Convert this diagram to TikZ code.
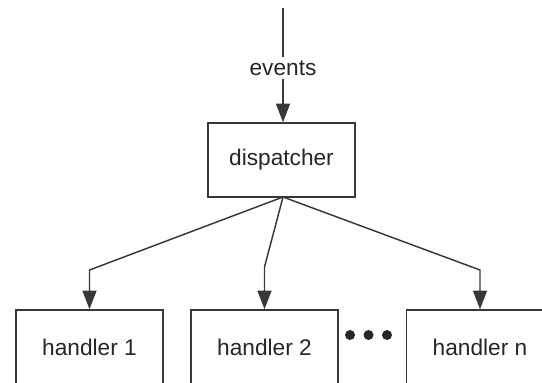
\documentclass[tikz,border=0pt]{standalone}
\usepackage{fontspec}
\setmainfont{Liberation Sans}
\usetikzlibrary{arrows.meta}
\begin{document}
\begin{tikzpicture}[x=0.75pt,y=-0.75pt,
  line width=1.1pt,
  ink/.style={draw=black!78},
  box/.style={ink, fill=white, minimum width=110pt, minimum height=55.5pt,
    inner sep=0pt, font=\fontsize{17}{20}\selectfont, text=black!85},
  arr/.style={ink, -{Triangle[width=10.5pt,length=14pt]}},
  lbl/.style={font=\fontsize{17}{20}\selectfont, text=black!85, inner sep=2pt},
  dot/.style={circle, fill=black!85, minimum size=7.5pt, inner sep=0pt}]
\useasboundingbox (0,0) rectangle (542,382);
\clip (0,0) rectangle (542,382);

% incoming event stream
\coordinate (src) at (283,8);
\node[lbl] (ev) at (283,68) {events};

% dispatcher and handlers
\node[box] (disp) at (281.5,160) {dispatcher};
\node[box] (h1) at (89.5,347) {handler 1};
\node[box] (h2) at (264.5,347) {handler 2};
\node[box] (hn) at (480,347) {handler n};

% ellipsis between handler 2 and handler n
\node[dot] (d1) at (350,335) {};
\node[dot] (d2) at (368.5,335) {};
\node[dot] (d3) at (387,335) {};

% bend heights of the fan-out connectors
\coordinate (bend) at (0,270);
\coordinate (bendm) at (0,267);
\coordinate (out) at (283,197);

\draw[ink] (src) -- (ev);
\draw[arr] (ev) -- (disp.north -| out);
\draw[arr] (out) -- (h1.north |- bend) -- (h1.north);
\draw[arr] (out) -- (h2.north |- bendm) -- (h2.north);
\draw[arr] (out) -- (hn.north |- bend) -- (hn.north);
\end{tikzpicture}
\end{document}
